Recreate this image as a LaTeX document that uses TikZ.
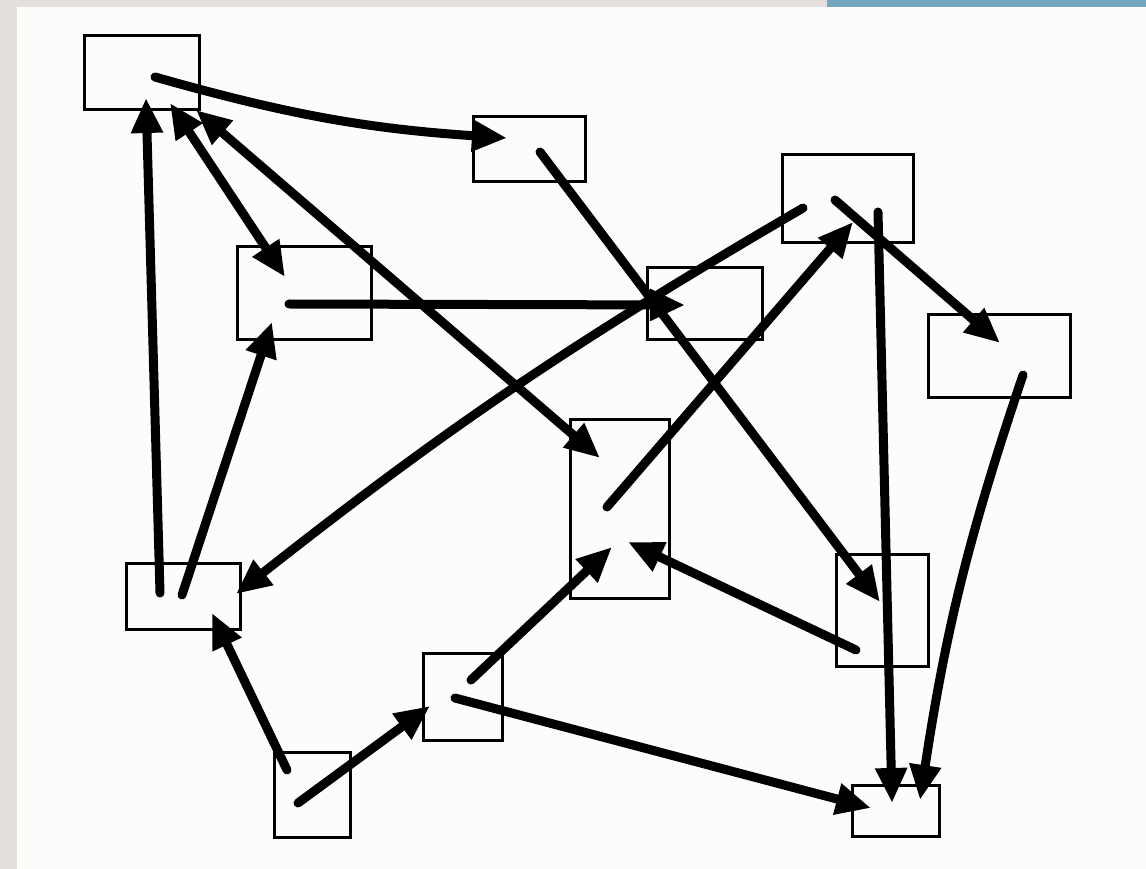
\documentclass[tikz,border=0pt]{standalone}
\usepackage{xcolor}
\usetikzlibrary{arrows.meta, calc}
\definecolor{frame-beige}{HTML}{E5DFDB}
\definecolor{frame-blue}{HTML}{73A5BF}
\definecolor{paper-white}{HTML}{FCFDFB}

\begin{document}
\begin{tikzpicture}[x=0.2mm, y=-0.2mm,
      blk/.style={draw, line width=0.6mm, inner sep=0pt},
      wire/.style={line width=1.8mm, line cap=round},
      >={Triangle[length=7mm, width=6mm]}]
    % page frame
    \fill[frame-beige] (0,0) rectangle (1146,869);
    \fill[frame-blue] (827,0) rectangle (1146,7);
    \fill[paper-white] (17,7) rectangle (1146,869);
    % boxes
    \node[blk, minimum width=23mm,   minimum height=14.8mm] (TOPL) at (141.5,73) {};
    \node[blk, minimum width=22.4mm, minimum height=13mm]   (TOPM) at (529,149.5) {};
    \node[blk, minimum width=26.8mm, minimum height=18.6mm] (MIDL) at (304,293.5) {};
    \node[blk, minimum width=23mm,   minimum height=14.4mm] (MIDM) at (704.5,304) {};
    \node[blk, minimum width=26.2mm, minimum height=17.6mm] (TOPR) at (847.5,199) {};
    \node[blk, minimum width=28.4mm, minimum height=16.6mm] (MIDR) at (999,356.5) {};
    \node[blk, minimum width=19.8mm, minimum height=35.6mm] (CNTR) at (619.5,509) {};
    \node[blk, minimum width=22.8mm, minimum height=13.2mm] (LOWL) at (183,596) {};
    \node[blk, minimum width=15.2mm, minimum height=17mm]   (BOTL) at (312,794.5) {};
    \node[blk, minimum width=15.8mm, minimum height=17.4mm] (BOTM) at (462.5,696.5) {};
    \node[blk, minimum width=18.4mm, minimum height=22.2mm] (LOWR) at (882,610.5) {};
    \node[blk, minimum width=17.4mm, minimum height=10.2mm] (BOTR) at (895.5,810.5) {};
    % links
    \draw[wire, ->] ($(TOPL)+(13.5,4)$) to[bend right=6] ($(TOPM)+(-22,-11.5)$);
    \draw[wire, <->] ($(TOPL)+(28.5,30)$) -- ($(MIDL)+(-19,-16.5)$);
    \draw[wire, <->] ($(TOPL)+(54.5,37)$) -- ($(CNTR)+(-19.5,-51)$);
    \draw[wire, ->] ($(LOWL)+(-23,-3)$) -- ($(TOPL)+(4.5,25)$);
    \draw[wire, ->] ($(LOWL)+(-1,-1)$) -- ($(MIDL)+(-32,28.5)$);
    \draw[wire, ->] ($(MIDL)+(-15,10.5)$) -- ($(MIDM)+(-19.5,1)$);
    \draw[wire, ->] ($(TOPM)+(11,2.5)$) -- ($(LOWR)+(-2,-8.5)$);
    \draw[wire, ->] ($(TOPR)+(-44.5,9)$) to[bend right=4] ($(LOWL)+(53,-2)$);
    \draw[wire, ->] ($(CNTR)+(-12.5,-2)$) -- ($(TOPR)+(5.5,23)$);
    \draw[wire, ->] ($(TOPR)+(-12.5,1)$) -- ($(MIDR)+(1,-13.5)$);
    \draw[wire, ->] ($(TOPR)+(30.5,13)$) -- ($(BOTR)+(-3.5,-7.5)$);
    \draw[wire, ->] ($(MIDR)+(24,18.5)$) to[bend right=5] ($(BOTR)+(24.5,-10.5)$);
    \draw[wire, ->] ($(LOWR)+(-26,39.5)$) -- ($(CNTR)+(8.5,33)$);
    \draw[wire, ->] ($(BOTM)+(8.5,-16.5)$) -- ($(CNTR)+(-7.5,38)$);
    \draw[wire, ->] ($(BOTM)+(-7.5,1.5)$) -- ($(BOTR)+(-24.5,-2.5)$);
    \draw[wire, ->] ($(BOTL)+(-14,8.5)$) -- ($(BOTM)+(-32.5,9.5)$);
    \draw[wire, ->] ($(BOTL)+(-25,-24.5)$) -- ($(LOWL)+(29,17)$);
\end{tikzpicture}
\end{document}
